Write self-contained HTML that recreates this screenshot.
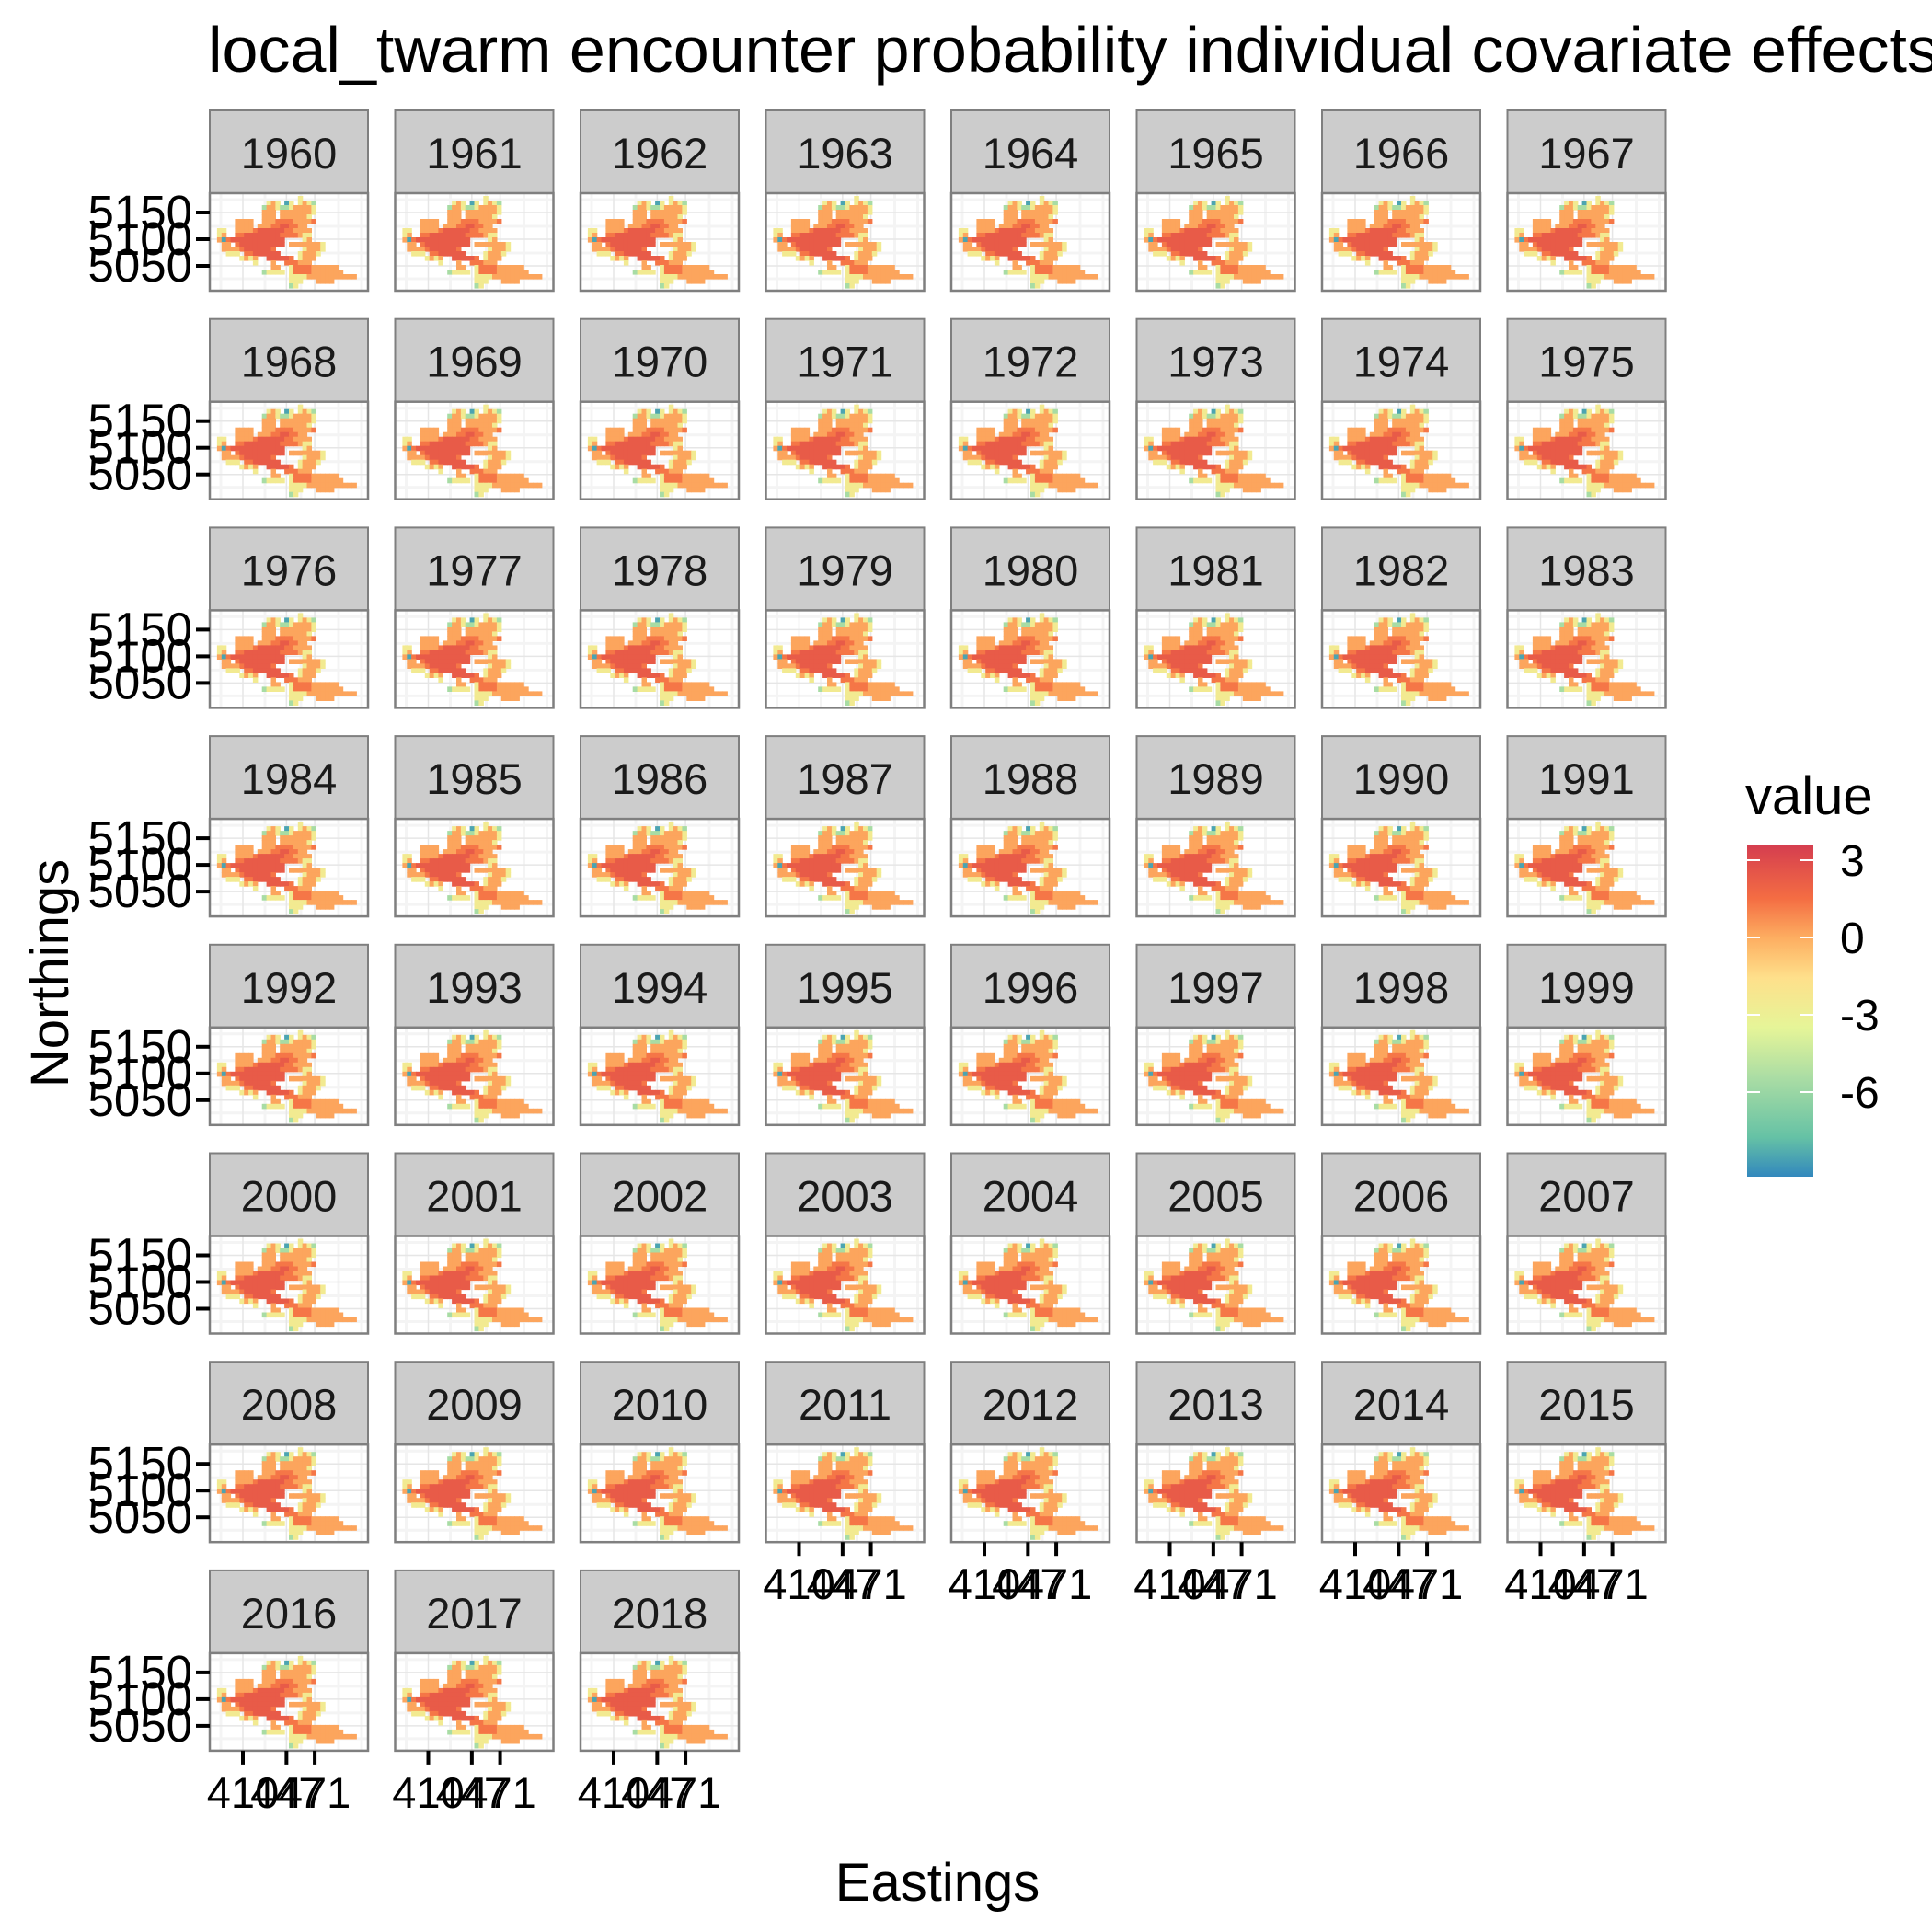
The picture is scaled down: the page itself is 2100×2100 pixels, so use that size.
<!DOCTYPE html>
<html><head><meta charset="utf-8"><style>
html,body{margin:0;padding:0;background:#fff;}
svg{display:block;font-family:"Liberation Sans",Arial,sans-serif;}
</style></head><body>
<svg id="chart" xmlns="http://www.w3.org/2000/svg" width="2100" height="2100" viewBox="0 0 2100 2100">
<defs>
<linearGradient id="spec" x1="0" y1="1" x2="0" y2="0">
<stop offset="0" stop-color="#3288BD"/><stop offset="0.12" stop-color="#66C2A5"/><stop offset="0.3" stop-color="#ABDDA4"/><stop offset="0.45" stop-color="#E6F598"/><stop offset="0.6" stop-color="#FEE08B"/><stop offset="0.72" stop-color="#FDAE61"/><stop offset="0.84" stop-color="#F46D43"/><stop offset="1" stop-color="#D53E4F"/>
</linearGradient>
</defs>
<text x="226" y="78" font-size="70" fill="#000">local_twarm encounter probability individual covariate effects</text>
<text x="1019" y="2066" font-size="58" text-anchor="middle" fill="#000">Eastings</text>
<text transform="translate(74,1058) rotate(-90)" font-size="58" text-anchor="middle" fill="#000">Northings</text>
<g id="panels"></g>
<g>
<text x="1897" y="885" font-size="58" fill="#000">value</text>
<rect x="1899" y="919" width="72" height="360" fill="url(#spec)"/>
<g id="legendTicks"></g>
</g>
</svg>
<script>
const years = [];
for (let y = 1960; y <= 2018; y++) years.push(y);
const xTickValues = [410, 447, 471];
const xTickLabels = ["410", "447", "471"];
const yTickValues = [5150, 5100, 5050];
const yTickLabels = ["5150", "5100", "5050"];
const legendTickValues = [3, 0, -3, -6];
const legendTickLabels = ["3", "0", "-3", "-6"];
const cellLevels = {r: 2.3, p: 1.3, o: 0.2, y: -2.5, g: -5.5, b: -8.5};
const cellGrid = [
"...................y..............",
"............yoy.by.yoyg...........",
"...........gooyggyooooy...........",
"...........ooo.oooooooy...........",
"...........ooo.ooooooy............",
".....oooo..oooppppoooop...........",
".....oooo.ooopprrppoo.............",
".yy..ooooprrrrrrppoooo............",
".yo..pprrrrrrrrppppoyy............",
".obprrrrrrrrrrrr....yo............",
"..oo.prrrrrrrrrr.oooooooy.........",
"..ooooprrrrrrp......yoooy.........",
"...yyy.pprrrrrr....yoooy..........",
"......yoyo..rrrrrp.yooo...........",
".........y...o..pppooo............",
".............oo..yppppoooooo......",
"...........gyyyy.yppppooooooo.....",
".................yyyyooooooooooo..",
".................yyy...oooo.......",
".................gy..............."
];
const ns = "http://www.w3.org/2000/svg";
function mk(tag, attrs, parent) {
  const e = document.createElementNS(ns, tag);
  for (const k in attrs) e.setAttribute(k, attrs[k]);
  parent.appendChild(e); return e;
}
const vMin = -9.25, vMax = 3.57;
const stops = [[0,"#3288BD"],[0.12,"#66C2A5"],[0.3,"#ABDDA4"],[0.45,"#E6F598"],[0.6,"#FEE08B"],[0.72,"#FDAE61"],[0.84,"#F46D43"],[1,"#D53E4F"]];
function hex(h){return [1,3,5].map(i=>parseInt(h.substr(i,2),16));}
function color(v){
  let t = (v - vMin) / (vMax - vMin); t = Math.max(0, Math.min(1, t));
  for (let i = 1; i < stops.length; i++) {
    if (t <= stops[i][0]) {
      const a = hex(stops[i-1][1]), b = hex(stops[i][1]);
      const f = (t - stops[i-1][0]) / (stops[i][0] - stops[i-1][0]);
      return "rgb(" + a.map((c,j)=>Math.round(c+(b[j]-c)*f)).join(",") + ")";
    }
  }
  return stops[stops.length-1][1];
}
const PW = 172, PH = 106, SH = 90;
function px(v){ return 36 + (v - 410) * 1.28; }
function py(v){ return 21 + (5150 - v) * 0.58; }
const root = document.getElementById("panels");
const ncol = 8;
const lastRow = Math.floor((years.length - 1) / ncol);
years.forEach((yr, i) => {
  const c = i % ncol, r = Math.floor(i / ncol);
  const x0 = 228 + c * 201.5, y0 = 120 + r * 226.7;
  const g = mk("g", {transform: "translate(" + x0 + "," + y0 + ")"}, root);
  
  
  const strip = mk("rect", {x: 0, y: 0, width: PW, height: SH, fill: "#cccccc", stroke: "#7f7f7f", "stroke-width": 2}, g);
  
  
  const st = mk("text", {x: PW/2, y: 63, "font-size": 47, "text-anchor": "middle", fill: "#1a1a1a"}, g);
  st.textContent = yr;
  
  
  const pg = mk("g", {transform: "translate(0," + SH + ")"}, g);
  mk("rect", {x: 0, y: 0, width: PW, height: PH, fill: "#fff"}, pg);
  [12, 60, 99, 140, 165].forEach(v => mk("line", {x1: v, x2: v, y1: 0, y2: PH, stroke: "#f4f4f4", "stroke-width": 3}, pg));
  [7, 36, 65, 93].forEach(v => mk("line", {x1: 0, x2: PW, y1: v, y2: v, stroke: "#f4f4f4", "stroke-width": 3}, pg));
  xTickValues.forEach(v => mk("line", {x1: px(v), x2: px(v), y1: 0, y2: PH, stroke: "#e6e6e6", "stroke-width": 1.5}, pg));
  yTickValues.forEach(v => mk("line", {x1: 0, x2: PW, y1: py(v), y2: py(v), stroke: "#e6e6e6", "stroke-width": 1.5}, pg));
  const cw = 166 / 34, ch = 100 / 20;
  const mg = mk("g", {}, pg);
  
  
  cellGrid.forEach((row, ri) => {
    for (let ci = 0; ci < row.length; ci++) {
      const k = row[ci];
      if (!(k in cellLevels)) continue;
      const cell = mk("rect", {x: (3 + ci * cw).toFixed(1), y: (3 + ri * ch).toFixed(1), width: (cw + 0.6).toFixed(1), height: (ch + 0.6).toFixed(1), fill: color(cellLevels[k])}, mg);
      
      
    }
  });
  const border = mk("rect", {x: 0, y: 0, width: PW, height: PH, fill: "none", stroke: "#7f7f7f", "stroke-width": 2.5}, pg);
  
  
  if (c === 0) {
    yTickValues.forEach((v, j) => {
      mk("line", {x1: -15, x2: 0, y1: py(v), y2: py(v), stroke: "#000", "stroke-width": 4}, pg);
      const t = mk("text", {x: -19, y: py(v) + 17, "font-size": 51, "text-anchor": "end", fill: "#000"}, pg);
      t.textContent = yTickLabels[j];
      
      
    });
  }
  const isBottom = (r === lastRow) || (i + ncol >= years.length);
  if (isBottom) {
    xTickValues.forEach((v, j) => {
      mk("line", {x1: px(v), x2: px(v), y1: PH, y2: PH + 15, stroke: "#000", "stroke-width": 4}, pg);
      const t = mk("text", {x: px(v), y: PH + 62, "font-size": 47, "text-anchor": "middle", fill: "#000"}, pg);
      t.textContent = xTickLabels[j];
      
      
    });
  }
});
const lt = document.getElementById("legendTicks");
function ly(v){ return 1019 - v * 28; }
legendTickValues.forEach((v, j) => {
  mk("line", {x1: 1899, x2: 1913, y1: ly(v), y2: ly(v), stroke: "#fff", "stroke-width": 2}, lt);
  mk("line", {x1: 1957, x2: 1971, y1: ly(v), y2: ly(v), stroke: "#fff", "stroke-width": 2}, lt);
  const t = mk("text", {x: 2000, y: ly(v) + 17, "font-size": 48, fill: "#000"}, lt);
  t.textContent = legendTickLabels[j];
  
  
});
</script>
</body></html>
